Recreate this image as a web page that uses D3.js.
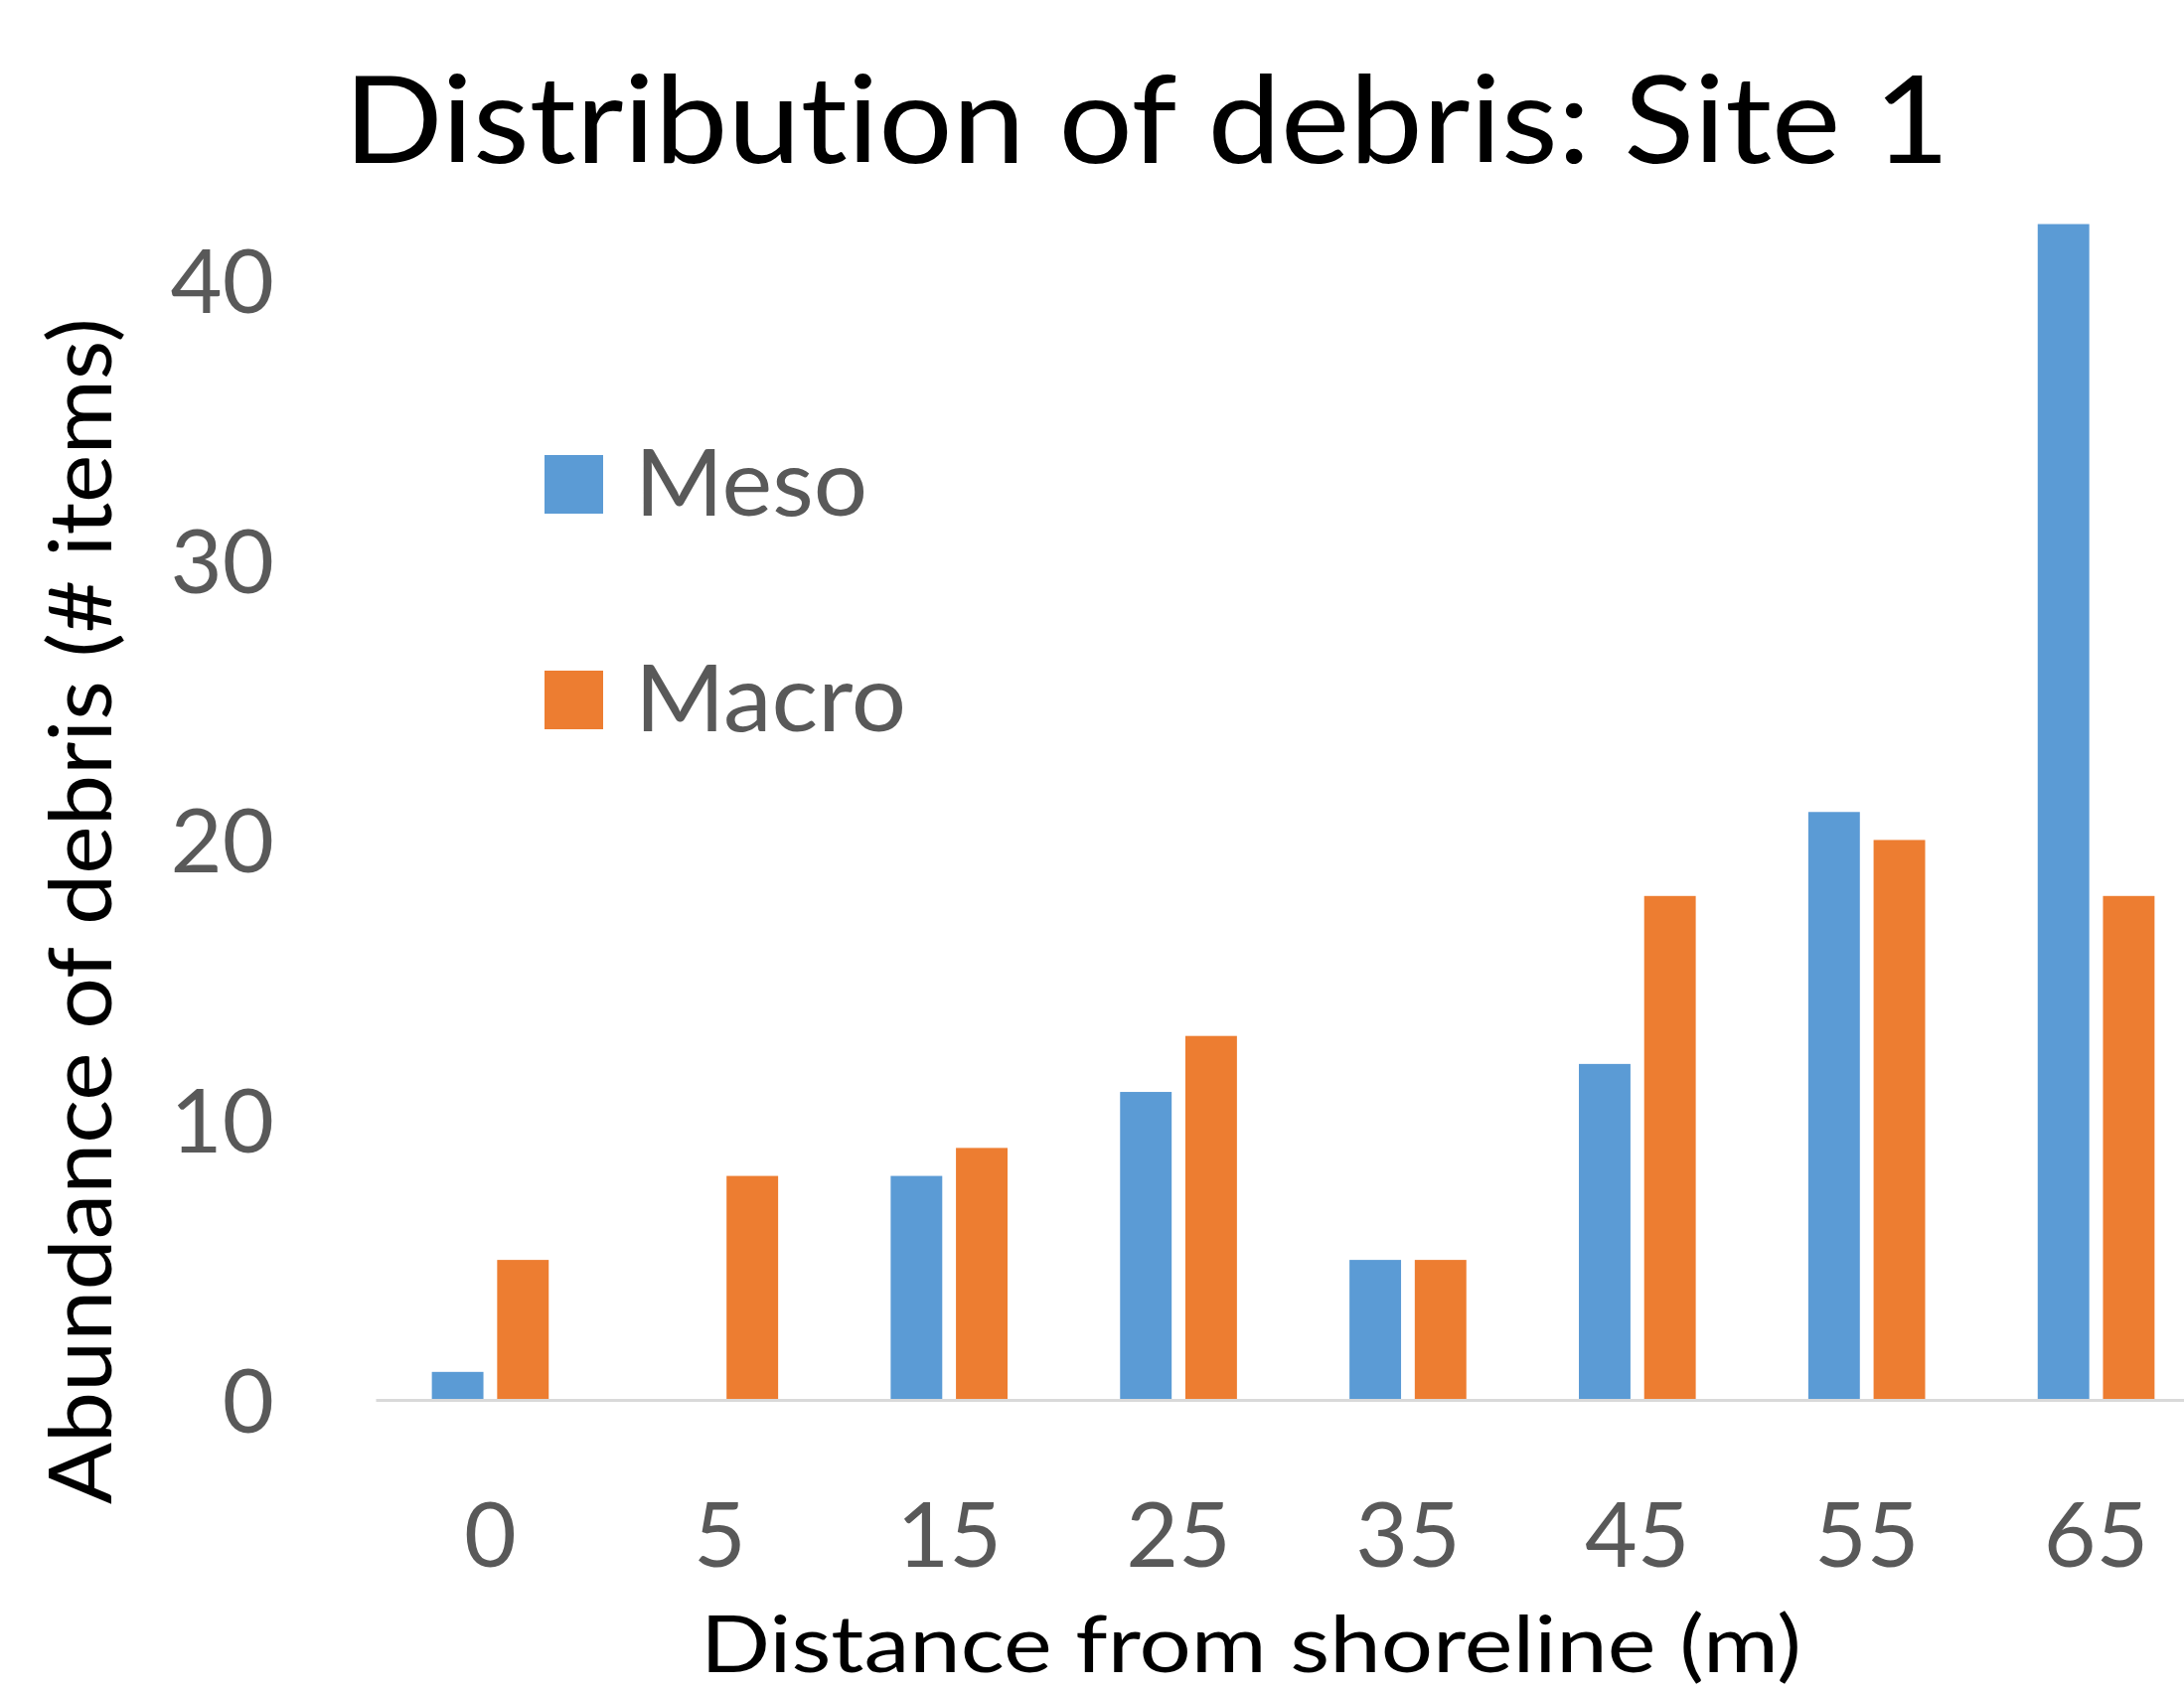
<!DOCTYPE html>
<html>
<head>
<meta charset="utf-8">
<script src="https://cdn.jsdelivr.net/npm/d3@7"></script>
<style>
  body { margin: 0; background: #fff; }
  text { font-family: Lato, "Noto Sans", sans-serif; font-variant-ligatures: none; }
</style>
</head>
<body>
<svg id="chart" width="2198" height="1702"></svg>
<script>
// data
var distances = ["0", "5", "15", "25", "35", "45", "55", "65"];
var seriesNames = ["Meso", "Macro"];
var meso = [1, 0, 8, 11, 5, 12, 21, 42];
var macro = [5, 8, 9, 13, 5, 18, 20, 18];
var yTicks = [0, 10, 20, 30, 40];
var colors = ["#5b9bd5", "#ed7d31"];

var svg = d3.select("#chart");
svg.append("rect").attr("width", 2198).attr("height", 1702).attr("fill", "#fff");

// the plot area runs past the right edge of the picture, as in the reference
var x0 = d3.scaleBand().domain(distances).range([378, 2225]).padding(0);
var x1 = d3.scaleBand().domain(seriesNames)
  .range([0, x0.bandwidth()])
  .paddingInner(0.21).paddingOuter(0.862);
var y = d3.scaleLinear().domain([0, 45]).range([1409, 141]);

var rows = distances.map(function(d, i) {
  return {dist: d, values: [meso[i], macro[i]]};
});

// bars
var group = svg.append("g").selectAll("g")
  .data(rows)
  .enter().append("g")
  .attr("transform", function(d) { return "translate(" + x0(d.dist) + ",0)"; });

group.selectAll("rect")
  .data(function(d) { return d.values.map(function(v, j) { return {s: seriesNames[j], v: v, j: j}; }); })
  .enter().append("rect")
  .attr("x", function(d) { return x1(d.s); })
  .attr("width", x1.bandwidth())
  .attr("y", function(d) { return y(d.v); })
  .attr("height", function(d) { return y(0) - y(d.v); })
  .attr("fill", function(d) { return colors[d.j]; });

// x axis: light baseline and category labels
var xAxis = svg.append("g")
  .attr("transform", "translate(0," + y(0) + ")")
  .call(d3.axisBottom(x0).tickSize(0).tickPadding(0));
xAxis.select(".domain").attr("stroke", "#d9d9d9").attr("stroke-width", 3);
xAxis.selectAll("text")
  .attr("y", 168).attr("dy", 0)
  .attr("fill", "#595959")
  .style("font-size", "91px");

// y axis: labels only
var yAxis = svg.append("g")
  .attr("transform", "translate(276,0)")
  .call(d3.axisLeft(y).tickValues(yTicks).tickSize(0).tickPadding(0));
yAxis.select(".domain").remove();
yAxis.selectAll("text")
  .attr("x", 0).attr("dy", "0.36em")
  .attr("fill", "#595959")
  .style("font-size", "90px");

// titles
svg.append("text")
  .attr("x", 1154).attr("y", 164)
  .attr("text-anchor", "middle")
  .attr("textLength", 1616).attr("lengthAdjust", "spacingAndGlyphs")
  .style("font-size", "122px")
  .text("Distribution of debris: Site 1");

svg.append("text")
  .attr("x", 1259).attr("y", 1683)
  .attr("text-anchor", "middle")
  .attr("textLength", 1108).attr("lengthAdjust", "spacingAndGlyphs")
  .style("font-size", "80px")
  .text("Distance from shoreline (m)");

svg.append("text")
  .attr("transform", "translate(112,917) rotate(-90)")
  .attr("text-anchor", "middle")
  .attr("textLength", 1194).attr("lengthAdjust", "spacingAndGlyphs")
  .style("font-size", "88px")
  .text("Abundance of debris (# items)");

// legend
var legendY = [519, 736];
var legendW = [234, 273];
var legend = svg.append("g").selectAll("g")
  .data(seriesNames)
  .enter().append("g");

legend.append("rect")
  .attr("x", 548)
  .attr("y", function(d, i) { return legendY[i] - 61; })
  .attr("width", 59).attr("height", 59)
  .attr("fill", function(d, i) { return colors[i]; });

legend.append("text")
  .attr("x", 639)
  .attr("y", function(d, i) { return legendY[i]; })
  .attr("textLength", function(d, i) { return legendW[i]; })
  .attr("lengthAdjust", "spacingAndGlyphs")
  .attr("fill", "#595959")
  .style("font-size", "94px")
  .text(function(d) { return d; });
</script>
</body>
</html>
